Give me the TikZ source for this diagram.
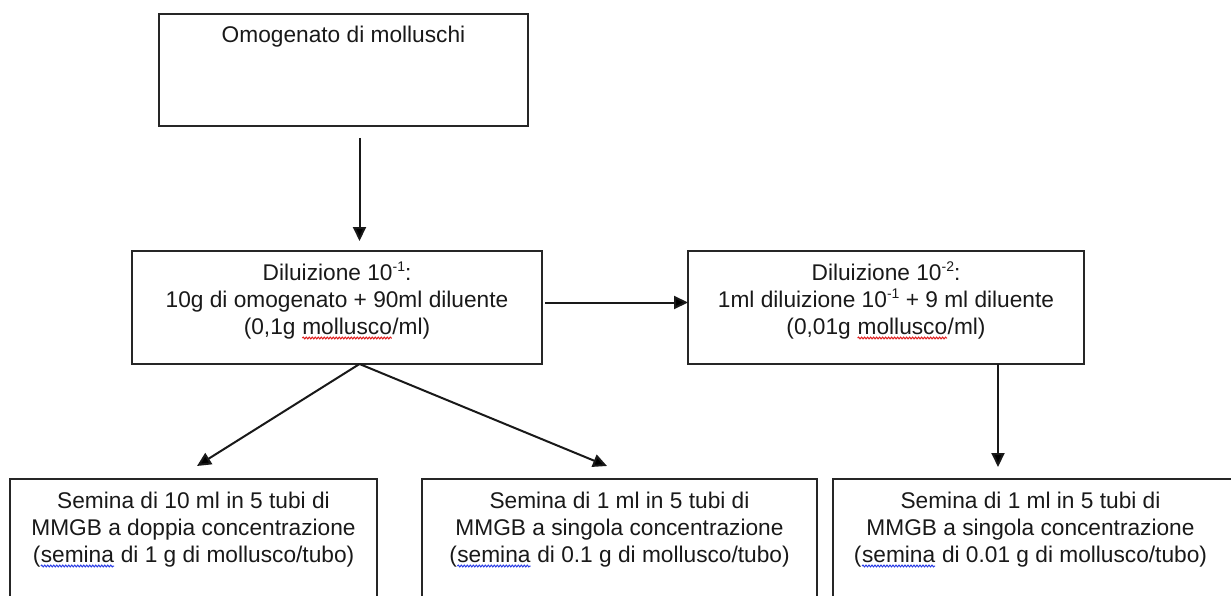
\documentclass[tikz,border=0pt]{standalone}
\usepackage{fontspec}
\setmainfont{Liberation Sans}
\usetikzlibrary{arrows.meta,decorations.pathmorphing,calc}
\definecolor{spellred}{RGB}{225,30,30}
\definecolor{spellblue}{RGB}{40,60,230}
\newcommand{\redwave}[1]{\tikz[baseline=(w.base)]{\node[inner sep=0pt,outer sep=0pt,draw=none,fill=none,anchor=base](w){#1};\draw[spellred,line width=1pt,decorate,decoration={snake,amplitude=0.9pt,segment length=3pt}]([yshift=-4pt]w.base west)--([yshift=-4pt]w.base east);}}
\newcommand{\bluewave}[1]{\tikz[baseline=(w.base)]{\node[inner sep=0pt,outer sep=0pt,draw=none,fill=none,anchor=base](w){#1};\draw[spellblue,line width=1pt,decorate,decoration={snake,amplitude=0.9pt,segment length=3pt}]([yshift=-4pt]w.base west)--([yshift=-4pt]w.base east);}}
\newcommand{\supx}[1]{\raisebox{0.38em}{\fontsize{14}{14}\selectfont #1}}
\begin{document}
\begin{tikzpicture}[x=1pt,y=-1pt,
  boxnode/.style={draw=black!85,line width=1.6pt,rectangle,inner sep=0pt,outer sep=0pt},
  txt/.style={align=center,inner sep=0pt,text=black!90,font=\fontsize{22.7}{27}\selectfont},
  arr/.style={draw=black!90,line width=2pt,-{Triangle[length=14pt,width=13pt]}}]
\useasboundingbox (0,0) rectangle (1231,596);
\clip (0,0) rectangle (1231,596);
% boxes
\node[boxnode,minimum width=369pt,minimum height=112pt] (top) at (343.5,70) {};
\node[boxnode,minimum width=410pt,minimum height=113pt] (d1) at (337,307.5) {};
\node[boxnode,minimum width=396pt,minimum height=113pt] (d2) at (886,307.5) {};
\node[boxnode,minimum width=367pt,minimum height=160pt] (sa) at (193.5,559) {};
\node[boxnode,minimum width=395pt,minimum height=160pt] (sb) at (619.5,559) {};
\node[boxnode,minimum width=420pt,minimum height=160pt] (sc) at (1043,559) {};
% texts (base anchor = last line's baseline)
\node[txt,anchor=base] (ttop) at (343.5,43) {Omogenato di molluschi};
\node[txt,anchor=base] (td1) at (337,334) {Diluizione 10\supx{-1}:\\10g di omogenato + 90ml diluente\\(0,1g \redwave{mollusco}/ml)};
\node[txt,anchor=base] (td2) at (886,334) {Diluizione 10\supx{-2}:\\1ml diluizione 10\supx{-1} + 9 ml diluente\\(0,01g \redwave{mollusco}/ml)};
\node[txt,anchor=base] (tsa) at (193.5,562) {Semina di 10 ml in 5 tubi di\\MMGB a doppia concentrazione\\(\bluewave{semina} di 1 g di mollusco/tubo)};
\node[txt,anchor=base] (tsb) at (619.5,562) {Semina di 1 ml in 5 tubi di\\MMGB a singola concentrazione\\(\bluewave{semina} di 0.1 g di mollusco/tubo)};
\node[txt,anchor=base] (tsc) at (1030.5,562) {Semina di 1 ml in 5 tubi di\\MMGB a singola concentrazione\\(\bluewave{semina} di 0.01 g di mollusco/tubo)};
% connector anchors
\coordinate (a1s) at (359.5,138);
\coordinate (a1e) at (359.5,241);
\coordinate (fork) at (359.5,364);
\coordinate (la) at (197,466);
\coordinate (lb) at (607,466);
\coordinate (hs) at (545,302.5);
\coordinate (vs) at (998,364);
\coordinate (ve) at (998,467);
% connectors
\draw[arr] (a1s) -- (a1e);
\draw[arr] (hs) -- (hs -| d2.west);
\draw[arr] (fork) -- (la);
\draw[arr] (fork) -- (lb);
\draw[arr] (vs) -- (ve);
\end{tikzpicture}
\end{document}
